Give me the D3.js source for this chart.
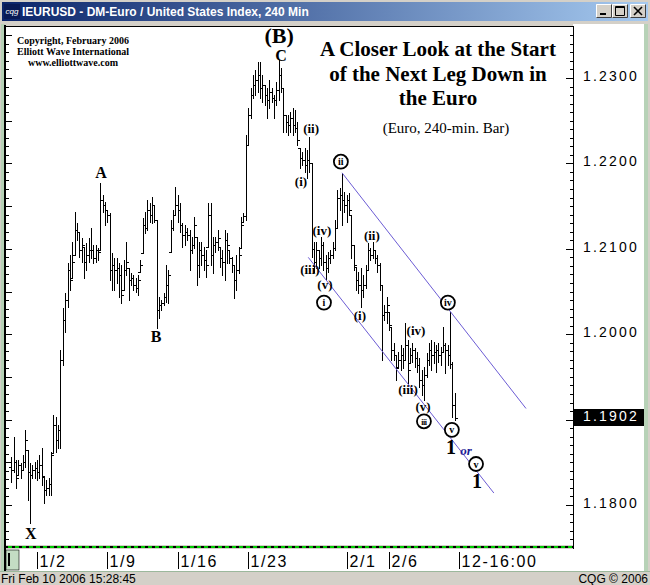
<!DOCTYPE html>
<html>
<head>
<meta charset="utf-8">
<script src="https://cdn.jsdelivr.net/npm/d3@7"></script>
<style>
  body { margin: 0; background: #d4d0c8; }
  svg { display: block; }
</style>
</head>
<body>
<div id="chart"></div>
<script>
// IEURUSD 240-min bars, Dec 29 2005 - Feb 10 2006
var firstOpen = 1.1845;
var highs = [
  1.1856,1.1880,1.1853,1.1853,1.1849,1.1859,1.1888,1.1864,1.1849,1.1847,
  1.1850,1.1853,1.1859,1.1867,1.1833,1.1829,1.1832,1.1862,1.1905,1.1903,
  1.1894,1.1982,1.2031,1.2048,1.2083,1.2093,1.2108,1.2143,1.2130,1.2120,
  1.2113,1.2102,1.2107,1.2113,1.2124,1.2104,1.2104,1.2101,1.2177,1.2163,
  1.2155,1.2145,1.2142,1.2095,1.2089,1.2089,1.2083,1.2081,1.2087,1.2108,
  1.2078,1.2072,1.2069,1.2066,1.2069,1.2087,1.2136,1.2143,1.2157,1.2154,
  1.2161,1.2151,1.2134,1.2044,1.2040,1.2048,1.2081,1.2075,1.2134,1.2145,
  1.2172,1.2163,1.2154,1.2130,1.2128,1.2124,1.2122,1.2114,1.2137,1.2114,
  1.2108,1.2108,1.2102,1.2099,1.2154,1.2154,1.2114,1.2114,1.2122,1.2102,
  1.2099,1.2122,1.2119,1.2099,1.2090,1.2081,1.2093,1.2102,1.2137,1.2142,
  1.2233,1.2265,1.2288,1.2304,1.2309,1.2319,1.2319,1.2304,1.2292,1.2288,
  1.2298,1.2288,1.2280,1.2295,1.2321,1.2312,1.2288,1.2257,1.2257,1.2260,
  1.2265,1.2263,1.2249,1.2218,1.2213,1.2218,1.2216,1.2231,1.2200,1.2108,
  1.2108,1.2099,1.2114,1.2108,1.2093,1.2096,1.2099,1.2108,1.2134,1.2169,
  1.2171,1.2189,1.2167,1.2163,1.2165,1.2140,1.2104,1.2079,1.2073,1.2078,
  1.2069,1.2081,1.2107,1.2101,1.2108,1.2099,1.2093,1.2083,1.2058,1.2034,
  1.2044,1.2026,1.2008,1.1990,1.1976,1.1979,1.1987,1.1984,1.2013,1.1993,
  1.1984,1.1990,1.1984,1.1979,1.1972,1.1958,1.1962,1.1978,1.1990,1.1993,
  1.1991,1.1987,1.1990,1.1985,1.2008,1.1990,1.1987,1.2026,1.1968,1.1931
];
var lows = [
  1.1827,1.1839,1.1820,1.1835,1.1832,1.1841,1.1845,1.1806,1.1779,1.1832,
  1.1832,1.1829,1.1832,1.1823,1.1802,1.1812,1.1812,1.1812,1.1861,1.1862,
  1.1867,1.1867,1.1964,1.2003,1.2032,1.2052,1.2066,1.2093,1.2110,1.2090,
  1.2085,1.2066,1.2075,1.2085,1.2089,1.2083,1.2085,1.2087,1.2099,1.2143,
  1.2128,1.2131,1.2063,1.2052,1.2052,1.2060,1.2044,1.2037,1.2052,1.2069,
  1.2040,1.2058,1.2052,1.2049,1.2046,1.2073,1.2095,1.2119,1.2122,1.2131,
  1.2130,1.2131,1.2007,1.2019,1.2028,1.2034,1.2038,1.2037,1.2096,1.2122,
  1.2140,1.2131,1.2120,1.2102,1.2104,1.2110,1.2075,1.2095,1.2101,1.2058,
  1.2067,1.2081,1.2075,1.2067,1.2102,1.2081,1.2072,1.2096,1.2099,1.2079,
  1.2069,1.2063,1.2083,1.2083,1.2073,1.2042,1.2052,1.2072,1.2101,1.2131,
  1.2134,1.2222,1.2253,1.2277,1.2280,1.2284,1.2277,1.2272,1.2268,1.2253,
  1.2265,1.2272,1.2253,1.2268,1.2274,1.2284,1.2237,1.2237,1.2233,1.2237,
  1.2233,1.2237,1.2222,1.2195,1.2198,1.2190,1.2183,1.2190,1.2090,1.2073,
  1.2078,1.2078,1.2081,1.2075,1.2063,1.2073,1.2083,1.2089,1.2099,1.2124,
  1.2145,1.2128,1.2143,1.2131,1.2140,1.2089,1.2075,1.2052,1.2048,1.2032,
  1.2044,1.2054,1.2075,1.2087,1.2089,1.2083,1.2073,1.2052,1.1970,1.2017,
  1.2013,1.2005,1.1970,1.1970,1.1946,1.1962,1.1958,1.1960,1.1970,1.1943,
  1.1966,1.1967,1.1962,1.1956,1.1938,1.1929,1.1923,1.1950,1.1964,1.1958,
  1.1966,1.1956,1.1967,1.1964,1.1979,1.1955,1.1964,1.1960,1.1903,1.1900
];
var closes = [
  1.1841,1.1850,1.1832,1.1847,1.1841,1.1850,1.1876,1.1839,1.1835,1.1841,
  1.1843,1.1839,1.1847,1.1834,1.1818,1.1820,1.1825,1.1859,1.1894,1.1876,
  1.1888,1.1970,1.2017,1.2040,1.2075,1.2063,1.2085,1.2122,1.2120,1.2099,
  1.2104,1.2085,1.2093,1.2099,1.2099,1.2089,1.2099,1.2096,1.2157,1.2151,
  1.2145,1.2140,1.2075,1.2081,1.2075,1.2078,1.2069,1.2046,1.2075,1.2085,
  1.2063,1.2066,1.2058,1.2054,1.2063,1.2081,1.2128,1.2124,1.2145,1.2140,
  1.2151,1.2134,1.2028,1.2034,1.2037,1.2044,1.2058,1.2069,1.2124,1.2140,
  1.2151,1.2145,1.2128,1.2116,1.2120,1.2116,1.2099,1.2104,1.2128,1.2081,
  1.2099,1.2093,1.2087,1.2081,1.2140,1.2093,1.2104,1.2108,1.2113,1.2089,
  1.2085,1.2110,1.2104,1.2089,1.2081,1.2063,1.2075,1.2093,1.2128,1.2138,
  1.2222,1.2257,1.2280,1.2292,1.2298,1.2304,1.2288,1.2292,1.2280,1.2274,
  1.2284,1.2277,1.2274,1.2286,1.2304,1.2288,1.2257,1.2249,1.2245,1.2253,
  1.2245,1.2241,1.2227,1.2206,1.2204,1.2198,1.2204,1.2200,1.2100,1.2085,
  1.2099,1.2089,1.2104,1.2085,1.2078,1.2089,1.2093,1.2101,1.2124,1.2160,
  1.2163,1.2157,1.2151,1.2157,1.2145,1.2104,1.2081,1.2063,1.2058,1.2052,
  1.2058,1.2075,1.2099,1.2093,1.2099,1.2089,1.2081,1.2058,1.2022,1.2026,
  1.2034,1.2011,1.1982,1.1976,1.1960,1.1970,1.1976,1.1970,1.1987,1.1958,
  1.1976,1.1982,1.1972,1.1964,1.1946,1.1941,1.1952,1.1970,1.1982,1.1976,
  1.1979,1.1982,1.1976,1.1979,1.1987,1.1982,1.1976,1.1965,1.1917,1.1902
];
var lastPrice = 1.1902;

// axis labels
var priceLabels = [1.23, 1.22, 1.21, 1.20, 1.18];
var dateTickIdx = [11, 41, 71, 101, 143, 161, 191];
var dateTickText = ["1/2", "1/9", "1/16", "1/23", "2/1", "2/6", "12-16:00"];

// channel lines: [bar index, price, bar index, price]
var channels = [
  [126.6, 1.2090, 205.7, 1.1814],
  [141, 1.2189, 219.4, 1.1913]
];

// wave labels: [text, bar index, price, kind]
var waveLabels = [
  ["(B)", 114.2, 1.2350, "big"],
  ["C", 115.0, 1.2326, "mid"],
  ["A", 38.3, 1.2190, "mid"],
  ["B", 61.7, 1.1997, "mid"],
  ["X", 8.4, 1.1767, "mid"],
  ["(ii)", 127.8, 1.2241, "sub"],
  ["(i)", 123.5, 1.2179, "sub"],
  ["(iv)", 132.4, 1.2122, "sub"],
  ["(iii)", 127.3, 1.2076, "sub"],
  ["(v)", 133.7, 1.2058, "sub"],
  ["i", 133.3, 1.2037, "circle"],
  ["ii", 140.5, 1.2202, "circle"],
  ["(ii)", 153.7, 1.2116, "sub"],
  ["(i)", 148.6, 1.2022, "sub"],
  ["(iv)", 172.5, 1.2004, "sub"],
  ["(iii)", 169.1, 1.1935, "sub"],
  ["(v)", 175.5, 1.1915, "sub"],
  ["iii", 175.9, 1.1898, "circle"],
  ["iv", 186.1, 1.2037, "circle"],
  ["v", 187.8, 1.1888, "circle"],
  ["1", 187.4, 1.1868, "one"],
  ["or", 193.8, 1.1864, "or"],
  ["v", 198.1, 1.1848, "circle"],
  ["1", 198.5, 1.1828, "one"]
];

var titleLines = ["A Closer Look at the Start", "of the Next Leg Down in", "the Euro"];
var subTitle = "(Euro, 240-min. Bar)";
var copyLines = ["Copyright, February 2006", "Elliott Wave International", "www.elliottwave.com"];

var width = 650, height = 585;
var plotL = 6, plotR = 573, plotT = 27, plotB = 547;
var serif = '"Liberation Serif", "Times New Roman", serif';
var sans = '"Liberation Sans", Arial, sans-serif';

var x = d3.scaleLinear().domain([-2, 239]).range([plotL + 0.5, plotR - 1]);
var y = d3.scaleLinear().domain([1.18, 1.23]).range([505, 78]);

var svg = d3.select('#chart').append('svg')
  .attr('width', width)
  .attr('height', height);

// window chrome
svg.append('rect').attr('width', width).attr('height', height).style('fill', '#d4d0c8');

var grad = svg.append('defs').append('linearGradient').attr('id', 'tb');
grad.append('stop').attr('offset', '0%').attr('stop-color', '#0a246a');
grad.append('stop').attr('offset', '100%').attr('stop-color', '#a6caf0');
svg.append('rect').attr('x', 2).attr('y', 2).attr('width', 646).attr('height', 19).style('fill', 'url(#tb)');

svg.append('rect').attr('x', 4).attr('y', 4).attr('width', 16).attr('height', 15).style('fill', '#081a55');
svg.append('text').text('cqg').attr('x', 12).attr('y', 14)
  .attr('text-anchor', 'middle').style('font', 'italic 8px ' + sans).style('fill', 'white');
svg.append('text').text('IEURUSD - DM-Euro / United States Index, 240 Min')
  .attr('x', 22).attr('y', 16)
  .style('font', 'bold 12px ' + sans).style('fill', 'white');

var btnX = [596, 612, 630];
btnX.forEach(function(bx, k) {
  var b = svg.append('g').attr('transform', 'translate(' + bx + ',4)');
  b.append('rect').attr('width', 16).attr('height', 14).style('fill', '#d4d0c8');
  b.append('path').attr('d', 'M0.5,13.5V0.5H15.5').style('stroke', 'white').style('fill', 'none');
  b.append('path').attr('d', 'M0.5,13.5H15.5V0.5').style('stroke', '#404040').style('fill', 'none');
  if (k === 0) b.append('rect').attr('x', 4).attr('y', 9).attr('width', 6).attr('height', 2).style('fill', 'black');
  if (k === 1) b.append('path').attr('d', 'M3.5,2.5H12.5V11.5H3.5Z M3.5,3.5H12.5').style('stroke', 'black').style('fill', 'none');
  if (k === 2) b.append('path').attr('d', 'M4,3L12,11M12,3L4,11').style('stroke', 'black').style('stroke-width', 1.6);
});

// panels
svg.append('rect').attr('x', 1).attr('y', 24).attr('width', 4).attr('height', 548).style('fill', '#b7d2b7');
svg.append('rect').attr('x', 644).attr('y', 24).attr('width', 4).attr('height', 548).style('fill', '#b7d2b7');
svg.append('rect').attr('x', plotR).attr('y', 24).attr('width', 71).attr('height', 548).style('fill', 'white');
svg.append('rect').attr('x', plotL).attr('y', plotT).attr('width', plotR - plotL).attr('height', 545 - plotT).style('fill', 'white');
svg.append('rect').attr('x', plotL).attr('y', 549).attr('width', plotR - plotL).attr('height', 22).style('fill', 'white');
svg.append('rect').attr('x', 4).attr('y', 25).attr('width', 2).attr('height', 547).style('fill', 'black');
svg.append('line').attr('x1', 4).attr('x2', plotR + 1).attr('y1', plotT - 0.5).attr('y2', plotT - 0.5)
  .style('stroke', 'black');
svg.append('line').attr('x1', plotR + 0.5).attr('x2', plotR + 0.5).attr('y1', plotT - 1).attr('y2', 549)
  .style('stroke', 'black');
svg.append('line').attr('x1', 0).attr('x2', 650).attr('y1', 571.5).attr('y2', 571.5).style('stroke', '#9cb89c');

// dotted separator between plot and date axis
svg.append('line').attr('x1', plotL).attr('x2', plotR).attr('y1', 547).attr('y2', 547)
  .style('stroke', 'black').style('stroke-width', 2);
svg.append('line').attr('x1', plotL + 2).attr('x2', plotR).attr('y1', 547).attr('y2', 547)
  .style('stroke', '#00cc00').style('stroke-width', 2).style('stroke-dasharray', '4,3');

// small box at the left of the date axis
svg.append('rect').attr('x', 6).attr('y', 550).attr('width', 13).attr('height', 20).style('fill', '#c4dcc4')
  .style('stroke', '#000').style('stroke-width', 0.6);
svg.append('rect').attr('x', 8).attr('y', 553).attr('width', 2).attr('height', 13).style('fill', 'black');

// price axis ticks
var minor = d3.range(1176, 1236).map(function(v) { return v / 1000; });
svg.append('g').attr('transform', 'translate(' + (plotR) + ',0)')
  .call(d3.axisLeft(y).tickValues(minor).tickSize(3).tickFormat(''))
  .call(function(g) { g.select('.domain').remove(); });
svg.append('g').attr('transform', 'translate(' + (plotR) + ',0)')
  .call(d3.axisLeft(y).tickValues(d3.range(118, 124).map(function(v) { return v / 100; })).tickSize(7).tickFormat(''))
  .call(function(g) { g.select('.domain').remove(); });
svg.append('g').attr('transform', 'translate(6,0)')
  .call(d3.axisRight(y).tickValues(minor).tickSize(3).tickFormat(''))
  .call(function(g) { g.select('.domain').remove(); });
svg.append('g').attr('transform', 'translate(6,0)')
  .call(d3.axisRight(y).tickValues(d3.range(236, 248).map(function(v) { return v / 200; })).tickSize(6).tickFormat(''))
  .call(function(g) { g.select('.domain').remove(); });
svg.selectAll('.tick line').style('stroke', '#000').attr('shape-rendering', 'crispEdges');

svg.selectAll('text.price').data(priceLabels).enter().append('text')
  .attr('class', 'price')
  .text(function(d) { return d3.format('.4f')(d); })
  .attr('x', 583).attr('y', function(d) { return y(d) + 3; })
  .style('font', '14px ' + sans).style('letter-spacing', '2.2px').style('fill', 'black');

svg.append('rect').attr('x', plotR + 1).attr('y', Math.round(y(lastPrice)) - 9).attr('width', 70).attr('height', 17)
  .style('fill', 'black');
svg.append('text').text(d3.format('.4f')(lastPrice))
  .attr('x', 583).attr('y', y(lastPrice) + 3)
  .style('font', '14px ' + sans).style('letter-spacing', '2.2px').style('fill', 'white');

// date axis
var dt = svg.selectAll('g.date').data(dateTickIdx).enter().append('g')
  .attr('class', 'date')
  .attr('transform', function(d) { return 'translate(' + (Math.round(x(d)) + 0.5) + ',0)'; });
dt.append('line').attr('y1', 552).attr('y2', 569).style('stroke', 'black');
dt.append('text').text(function(d, k) { return dateTickText[k]; })
  .attr('x', 2).attr('y', 567)
  .style('font', '16px ' + sans).style('letter-spacing', '1.6px').style('fill', 'black');

// status bar
svg.append('text').text('Fri Feb 10 2006 15:28:45').attr('x', 1).attr('y', 583)
  .style('font', '12px ' + sans).style('fill', 'black');
svg.append('text').text('CQG \u00a9 2006').attr('x', 648).attr('y', 583).attr('text-anchor', 'end')
  .style('font', '12px ' + sans).style('fill', 'black');

// plot contents
svg.append('clipPath').attr('id', 'clip').append('rect')
  .attr('x', plotL).attr('y', plotT).attr('width', plotR - plotL).attr('height', 546 - plotT);
var plot = svg.append('g').attr('clip-path', 'url(#clip)');

var bars = highs.map(function(h, i) {
  return { i: i, o: i ? closes[i - 1] : firstOpen, h: h, l: lows[i], c: closes[i] };
});

plot.selectAll('path.bar').data(bars).enter().append('path')
  .attr('class', 'bar')
  .attr('d', function(d) {
    var cx = Math.round(x(d.i)) + 0.5;
    var o = Math.max(d.l, Math.min(d.h, d.o));
    return 'M' + cx + ',' + Math.round(y(d.h)) + 'V' + (Math.round(y(d.l)) + 1) +
      'M' + (cx - 2.5) + ',' + (Math.round(y(o)) + 0.5) + 'H' + cx +
      'M' + cx + ',' + (Math.round(y(d.c)) + 0.5) + 'H' + (cx + 2.5);
  })
  .style('stroke', 'black')
  .style('fill', 'none')
  .attr('shape-rendering', 'crispEdges');

plot.selectAll('line.channel').data(channels).enter().append('line')
  .attr('class', 'channel')
  .attr('x1', function(d) { return x(d[0]); })
  .attr('y1', function(d) { return y(d[1]); })
  .attr('x2', function(d) { return x(d[2]); })
  .attr('y2', function(d) { return y(d[3]); })
  .style('stroke', '#6c5cd4')
  .style('stroke-width', 1);

// wave labels
var fonts = {
  big: 'bold 22px ' + serif,
  mid: 'bold 16px ' + serif,
  sub: 'bold 13px ' + serif,
  one: 'bold 20px ' + serif,
  or: 'italic bold 13px ' + serif
};
waveLabels.forEach(function(w) {
  var px = x(w[1]), py = y(w[2]);
  if (w[3] === 'circle') {
    plot.append('circle').attr('cx', px).attr('cy', py).attr('r', 7)
      .style('fill', 'white').style('stroke', 'black').style('stroke-width', 1.8);
    plot.append('text').text(w[0]).attr('x', px).attr('y', py + 3.5)
      .attr('text-anchor', 'middle')
      .style('font', 'bold ' + (w[0].length > 2 ? 8 : 10) + 'px ' + serif)
      .style('letter-spacing', w[0].length > 2 ? '-0.5px' : '0px')
      .style('fill', 'black');
  } else {
    plot.append('text').text(w[0]).attr('x', px).attr('y', py)
      .attr('dy', '0.35em')
      .attr('text-anchor', 'middle')
      .style('font', fonts[w[3]])
      .style('fill', w[3] === 'or' ? '#1c1c96' : 'black');
  }
});

// headline
svg.selectAll('text.title').data(titleLines).enter().append('text')
  .attr('class', 'title')
  .text(function(d) { return d; })
  .attr('x', 438).attr('y', function(d, k) { return 56 + k * 24.5; })
  .attr('text-anchor', 'middle')
  .style('font', 'bold 21px ' + serif).style('fill', 'black');
svg.append('text').text(subTitle)
  .attr('x', 446).attr('y', 133).attr('text-anchor', 'middle')
  .style('font', '15px ' + serif).style('fill', 'black');
svg.selectAll('text.copy').data(copyLines).enter().append('text')
  .attr('class', 'copy')
  .text(function(d) { return d; })
  .attr('x', 73).attr('y', function(d, k) { return 44 + k * 11; })
  .attr('text-anchor', 'middle')
  .style('font', 'bold 10px ' + serif).style('fill', 'black');
</script>
</body>
</html>
